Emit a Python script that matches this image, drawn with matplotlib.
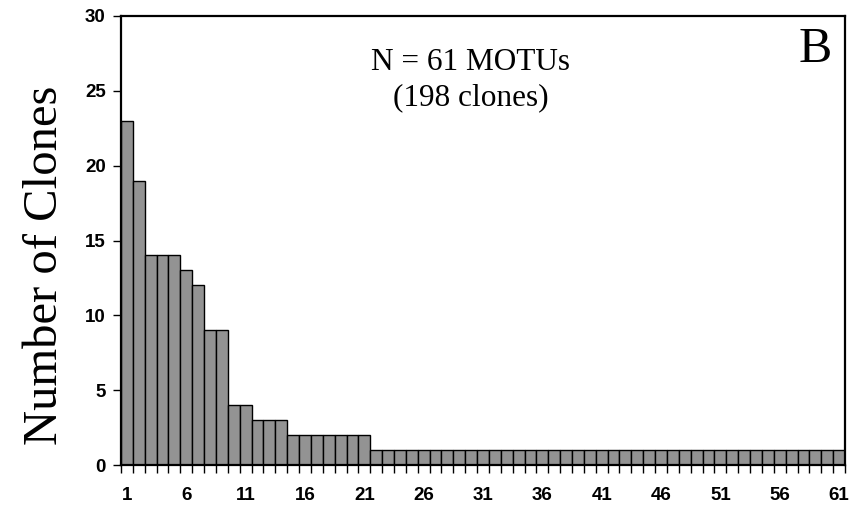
import numpy as np
import matplotlib.pyplot as plt

# clones per MOTU, ranked
counts = [23, 19, 14, 14, 14, 13, 12, 9, 9, 4, 4, 3, 3, 3] + [2] * 7 + [1] * 40
motu = np.arange(1, len(counts) + 1)
xtick_labels = [str(i) for i in range(1, 62, 5)]
yticks = [0, 5, 10, 15, 20, 25, 30]

fig = plt.figure(figsize=(8.5, 5.12), dpi=100)
ax = fig.add_axes([121 / 850, 47 / 512, 724 / 850, 449 / 512])

ax.bar(motu, counts, width=1.0, color='#939393', edgecolor='black', linewidth=1.0)

ax.set_xlim(0.5, len(counts) + 0.5)
ax.set_ylim(0, 30)

# ticks between bars, labels at bar centres
ax.set_xticks(np.arange(0.5, len(counts) + 1, 1.0))
ax.set_xticklabels([])
ax.tick_params(axis='x', which='major', direction='out', length=6, width=1)
ax.set_xticks([int(s) for s in xtick_labels], minor=True)
ax.set_xticklabels(xtick_labels, minor=True)
ax.tick_params(axis='x', which='minor', length=0, pad=16)
for t in ax.get_xticklabels(minor=True):
    t.set_fontfamily('Liberation Sans')
    t.set_fontweight('bold')
    t.set_fontsize(13.5)

ax.set_yticks(yticks)
ax.tick_params(axis='y', direction='out', length=6, width=1, pad=5)
for t in ax.get_yticklabels():
    t.set_fontfamily('Liberation Sans')
    t.set_fontweight('bold')
    t.set_fontsize(13.5)

for s in ax.spines.values():
    s.set_linewidth(1.6)

ax.set_ylabel('Number of Clones', fontfamily='Liberation Serif', fontsize=35)
ax.yaxis.set_label_coords(-0.074, 0.445)

ax.text(0.483, 0.857, 'N = 61 MOTUs\n(198 clones)', transform=ax.transAxes,
        ha='center', va='center', fontfamily='Liberation Serif', fontsize=22.5,
        linespacing=1.3)
ax.text(0.982, 0.925, 'B', transform=ax.transAxes, ha='right', va='center',
        fontfamily='Liberation Serif', fontsize=36)

fig.savefig('out.png', dpi=100)
